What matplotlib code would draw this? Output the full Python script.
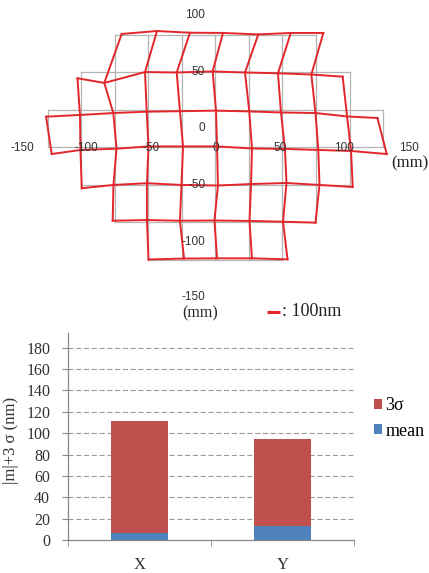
import matplotlib
matplotlib.use("Agg")
import matplotlib.pyplot as plt

# ---------------- data: distortion map (mm) ----------------
grid_cols = [-130, -104, -78, -52, -26, 0, 26, 52, 78, 104, 130]
grid_rows = [82.5, 49.5, 16.5, -16.5, -49.5, -82.5, -115.5]
row_col_first = [2, 1, 0, 0, 1, 2, 3]
row_col_last = [8, 9, 10, 10, 9, 8, 7]

red_x = [
    [-72.8, -45.4, -19.8, 5.8, 33.2, 58.4, 83.7],
    [-107.1, -86.3, -54.7, -30.1, -2.2, 22.9, 48.5, 74.4, 98.7],
    [-131.5, -105.2, -79.3, -53.4, -27.6, 0.4, 26.2, 50.8, 77.6, 102.1, 125.7],
    [-127.1, -104.8, -76.8, -52.0, -25.2, 1.2, 28.3, 53.9, 79.8, 105.2, 132.9],
    [-103.8, -79.2, -53.2, -26.4, 1.9, 27.6, 55.1, 80.7, 106.5],
    [-79.8, -53.2, -27.6, -0.8, 26.4, 52.4, 77.6],
    [-52.0, -24.4, 1.2, 28.3, 55.9],
]
red_y = [
    [83.2, 85.8, 84.3, 84.1, 82.8, 84.1, 84.1],
    [44.2, 40.1, 49.7, 49.3, 50.2, 49.3, 48.6, 47.5, 45.6],
    [10.4, 11.9, 13.6, 14.8, 15.2, 15.7, 15.0, 14.1, 13.6, 10.6, 9.2],
    [-22.5, -18.9, -17.8, -15.8, -15.8, -15.8, -17.6, -18.0, -18.9, -19.8, -22.5],
    [-52.6, -49.7, -48.2, -49.7, -50.2, -48.9, -48.0, -49.7, -51.5],
    [-81.2, -80.6, -81.2, -81.0, -81.4, -82.1, -82.9],
    [-115.3, -114.5, -114.3, -114.3, -115.2],
]

map_xticks = [-150, -100, -50, 0, 50, 100, 150]
map_yticks = [100, 50, 0, -50, -100, -150]
scale_label = ": 100nm"
scale_len = 10.0  # mm on the map representing 100 nm

# ---------------- data: bar chart ----------------
categories = ["X", "Y"]
mean_vals = [7, 13]
sigma3_vals = [104, 82]
bar_yticks = [0, 20, 40, 60, 80, 100, 120, 140, 160, 180]

SANS = ["Liberation Sans", "DejaVu Sans"]
SERIF = ["Liberation Serif", "DejaVu Serif"]
RED = "#e3262c"
GRAY = "#b4b4b4"
TXT = "#333333"

fig = plt.figure(figsize=(4.29, 5.73), dpi=100)

# ---------------- top: distortion map ----------------
ax1 = fig.add_axes([0, 1 - 330 / 573, 1, 330 / 573])
ax1.set_xlim(-167.25, 165.7)
ax1.set_ylim(-177.4, 113.1)
ax1.axis("off")

# reference (gray) grid
for r, y in enumerate(grid_rows):
    c0, c1 = row_col_first[r], row_col_last[r]
    ax1.plot([grid_cols[c0], grid_cols[c1]], [y, y], color=GRAY, lw=0.9, zorder=1)
for c, x in enumerate(grid_cols):
    rows = [r for r in range(len(grid_rows)) if row_col_first[r] <= c <= row_col_last[r]]
    ax1.plot([x, x], [grid_rows[rows[0]], grid_rows[rows[-1]]], color=GRAY, lw=0.9, zorder=1)

# measured (red) grid
for r in range(len(grid_rows)):
    ax1.plot(red_x[r], red_y[r], color=RED, lw=1.4, zorder=3, solid_joinstyle="miter")
for c in range(len(grid_cols)):
    xs, ys = [], []
    for r in range(len(grid_rows)):
        if row_col_first[r] <= c <= row_col_last[r]:
            i = c - row_col_first[r]
            xs.append(red_x[r][i])
            ys.append(red_y[r][i])
    ax1.plot(xs, ys, color=RED, lw=1.4, zorder=3, solid_joinstyle="miter")

for v in map_xticks:
    ax1.text(v, -16.8, f"{v}".replace("-", "\u2010"), ha="center", va="center",
             fontsize=8.5, color=TXT, family=SANS, zorder=4)
for v in map_yticks:
    ax1.text(-8.0, v + (1.5 if v == -150 else 0), f"{v}".replace("-", "\u2010"),
             ha="right", va="center", fontsize=8.5, color=TXT, family=SANS, zorder=4)
ax1.text(151, -30.4, "(mm)", ha="center", va="center", fontsize=12, color="#222222", family=SERIF)
ax1.text(-12, -163.0, "(mm)", ha="center", va="center", fontsize=11.5, color="#222222", family=SERIF)
ax1.plot([40, 40 + scale_len], [-161.5, -161.5], color=RED, lw=2.2, solid_capstyle="butt")
ax1.text(51.5, -161.5, scale_label, ha="left", va="center", fontsize=13, color="#222222", family=SERIF)

# ---------------- bottom: bar chart ----------------
ax2 = fig.add_axes([68.3 / 429, 1 - 540 / 573, (354 - 68.3) / 429, 207 / 573])
xpos = list(range(len(categories)))
b_mean = ax2.bar(xpos, mean_vals, width=0.4, color="#4f81bd", zorder=3)
b_sig = ax2.bar(xpos, sigma3_vals, width=0.4, bottom=mean_vals, color="#c0504d", zorder=3)

ax2.set_xlim(-0.5, 1.5)
ax2.set_ylim(0, 193.8)
ax2.set_yticks(bar_yticks)
ax2.set_yticklabels([str(v) for v in bar_yticks], family=SERIF, fontsize=11.5, color=TXT)
ax2.set_xticks(xpos)
ax2.set_xticklabels(categories, family=SERIF, fontsize=12, color=TXT)
ax2.set_xticks([-0.5, 0.5, 1.5], minor=True)
ax2.tick_params(axis="x", which="major", length=0, pad=12)
ax2.tick_params(axis="x", which="minor", length=4, color="#888888", direction="out")
ax2.tick_params(axis="y", length=4, color="#888888", direction="out", pad=9)
for s in ["top", "right"]:
    ax2.spines[s].set_visible(False)
for s in ["left", "bottom"]:
    ax2.spines[s].set_color("#888888")
    ax2.spines[s].set_linewidth(0.9)
for v in bar_yticks[1:]:
    ax2.axhline(v, color="#9a9a9a", lw=0.8, dashes=(4.5, 2.5), zorder=1)

ax2.set_ylabel("|m|+3 σ (nm)", family=SERIF, fontsize=12, color=TXT)
ax2.yaxis.set_label_coords(-0.172, 0.483)

ax2.legend([b_sig, b_mean], ["3σ", "mean"], loc="center left",
           bbox_to_anchor=(374 / 429, 1 - 418.5 / 573), bbox_transform=fig.transFigure,
           frameon=False, handlelength=0.42, handleheight=0.42, handletextpad=0.2,
           labelspacing=0.45, borderpad=0, borderaxespad=0,
           prop={"family": SERIF, "size": 13})

fig.savefig("out.png", dpi=100)
